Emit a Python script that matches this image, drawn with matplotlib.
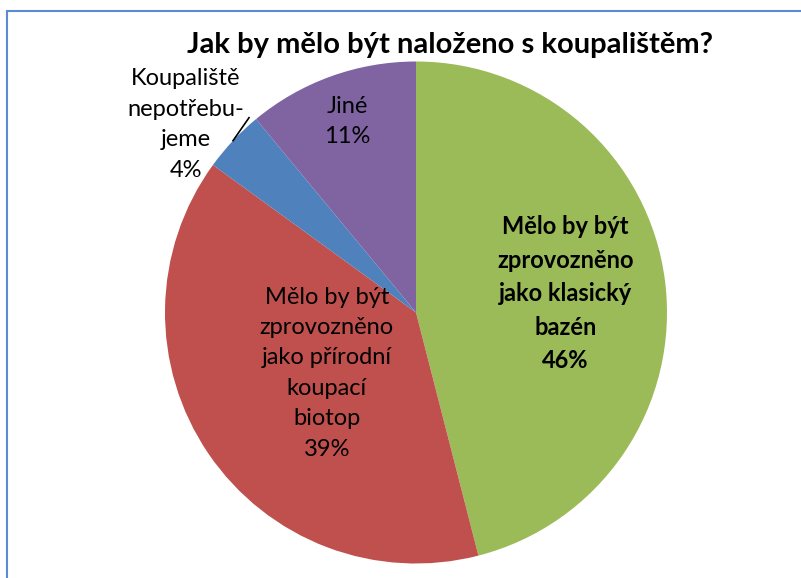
import matplotlib.pyplot as plt
import numpy as np
from matplotlib.patches import Rectangle

# data
categories = ['Mělo by být\nzprovozněno\njako klasický\nbazén',
              'Mělo by být\nzprovozněno\njako přírodní\nkoupací\nbiotop',
              'Koupaliště\nnepotřebu-\njeme',
              'Jiné']
values = [46, 39, 4, 11]
colors = ['#9BBB59', '#C0504D', '#4F81BD', '#8064A2']
title = 'Jak by mělo být naloženo s koupalištěm?'

plt.rcParams['font.family'] = ['Lato', 'DejaVu Sans']

W, H = 801, 578
fig = plt.figure(figsize=(W / 100, H / 100), dpi=100)
ax = fig.add_axes([0, 0, 1, 1])

# pie in pixel units
cx, cy, R = 416, H - 312.5, 251
wedges, _ = ax.pie(values, colors=colors, startangle=90, counterclock=False,
                   center=(cx, cy), radius=R, wedgeprops=dict(linewidth=0))

# label distance (fraction of radius) and angle shift per slice
dist = [0.60, 0.43, 1.185, 0.81]
shift = [0, 0, 4, 0]
for w, name, v, d, s in zip(wedges, categories, values, dist, shift):
    mid = np.deg2rad((w.theta1 + w.theta2) / 2 + s)
    x = cx + d * R * np.cos(mid)
    y = cy + d * R * np.sin(mid)
    ax.text(x, y, f'{name}\n{v}%', ha='center', va='center', fontsize=17,
            linespacing=1.55, fontweight='bold' if v == max(values) else 'normal')

# leader line for the small slice
w = wedges[2]
mid = np.deg2rad((w.theta1 + w.theta2) / 2)
x0, y0 = cx + R * np.cos(mid), cy + R * np.sin(mid)
ax.plot([x0, x0 + 16], [y0, y0 + 23], color='black', lw=1.2)

ax.text(450, H - 45, title, ha='center', va='center', fontsize=21, fontweight='bold')

# chart border
ax.add_patch(Rectangle((7, -20), W, H - 11 + 20, fill=False, edgecolor='#5B8BD0', lw=1.5))

ax.set_xlim(0, W)
ax.set_ylim(0, H)
ax.set_aspect('equal')
ax.axis('off')

plt.savefig('out.png', dpi=100)
